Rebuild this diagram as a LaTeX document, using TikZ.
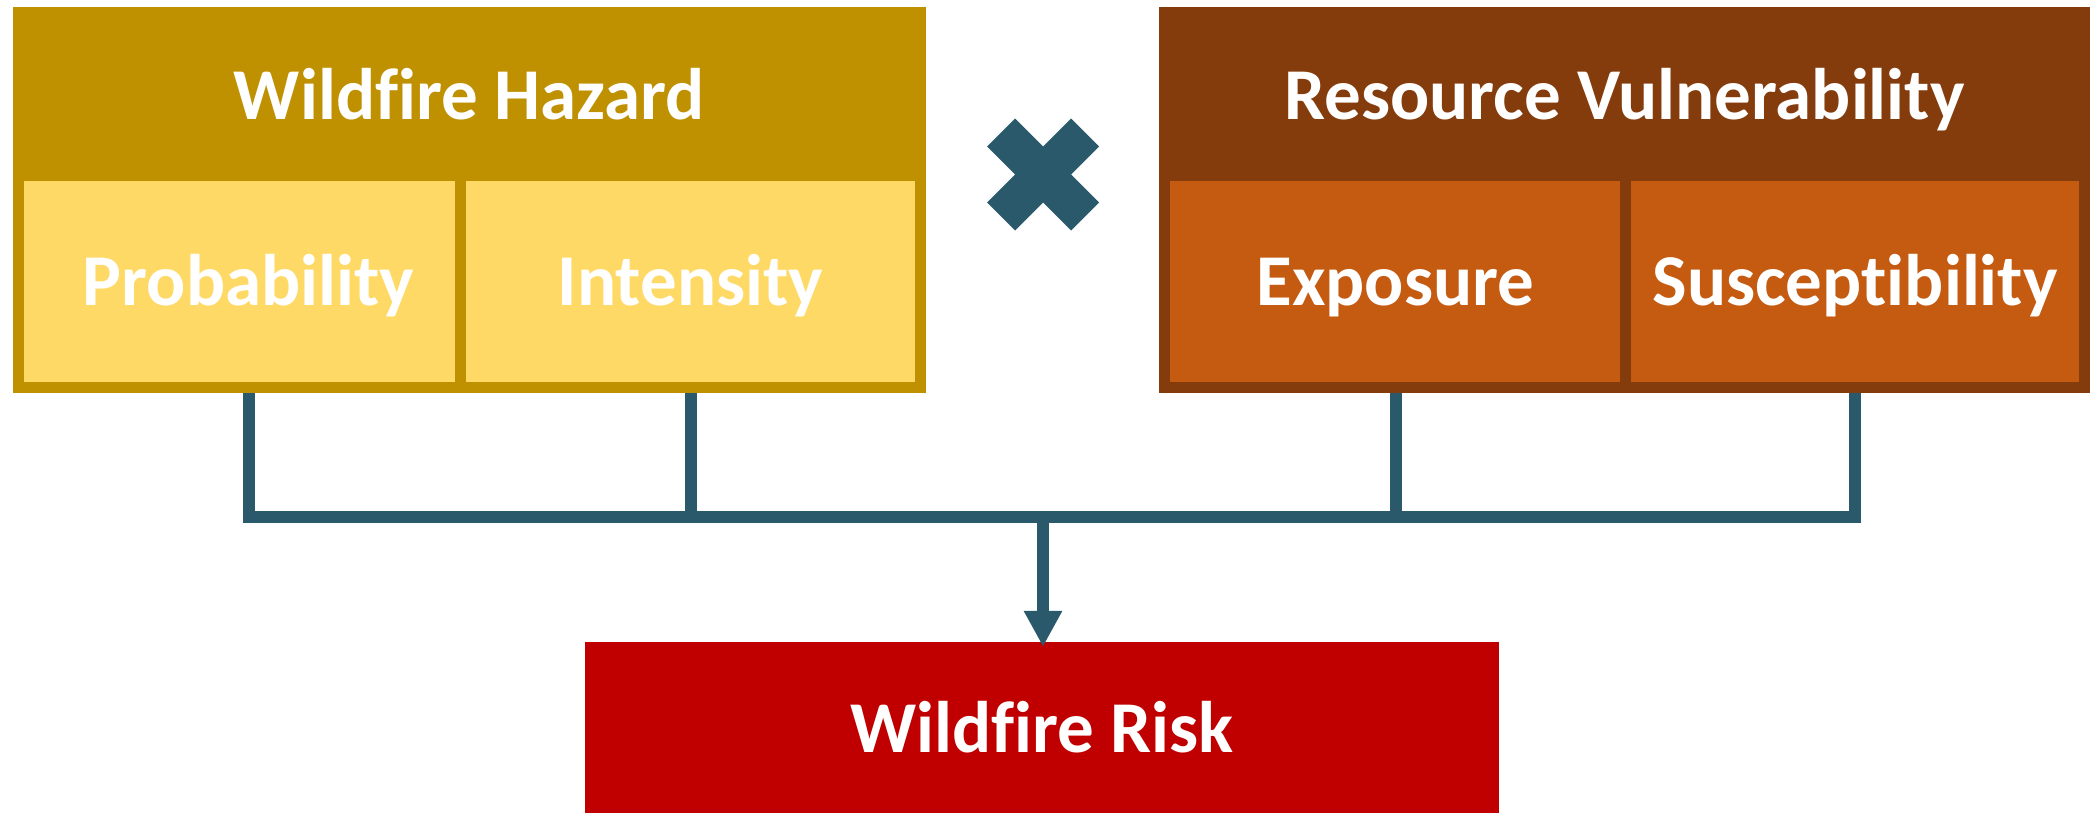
\documentclass[tikz,border=0pt]{standalone}
\usepackage{fontspec}
\setmainfont{Carlito}[Ligatures=NoCommon]
\usetikzlibrary{arrows.meta}
\definecolor{hazdark}{HTML}{BF9000}
\definecolor{hazlight}{HTML}{FFD966}
\definecolor{vuldark}{HTML}{843C0C}
\definecolor{vullight}{HTML}{C55A11}
\definecolor{riskred}{HTML}{C00000}
\definecolor{connteal}{HTML}{29596B}
\begin{document}
\begin{tikzpicture}[x=1pt,y=-1pt,
  txt/.style={font=\fontsize{73}{80}\selectfont\bfseries, text=white, text height=47pt, text depth=0pt, inner sep=0pt, rectangle},
  headbox/.style={txt, draw=none},
  subbox/.style={txt, line width=11pt, minimum height=212pt},
  conn/.style={draw=connteal, line width=12pt, line join=miter},
]
\useasboundingbox (0,0) rectangle (2092,812);

% hazard group
\node[headbox, fill=hazdark, minimum width=913pt, minimum height=177pt] (haz) at (469.5,95.5) {Wildfire Hazard};
\node[subbox, draw=hazdark, fill=hazlight, minimum width=460pt] (prob) at (248.5,281.5) {Probability};
\node[subbox, draw=hazdark, fill=hazlight, minimum width=460pt] (int) at (690.5,281.5) {Intensity};

% vulnerability group
\node[headbox, fill=vuldark, minimum width=931pt, minimum height=177pt] (vul) at (1624.5,95.5) {Resource Vulnerability};
\node[subbox, draw=vuldark, fill=vullight, minimum width=462pt] (exp) at (1395.5,281.5) {Exposure};
\node[subbox, draw=vuldark, fill=vullight, minimum width=459pt] (sus) at (1855,281.5) {Susceptibility};

% multiplication sign
\fill[connteal] (1043,174.5) ++(-28,-56) -- ++(28,28) -- ++(28,-28) -- ++(28,28) -- ++(-28,28)
  -- ++(28,28) -- ++(-28,28) -- ++(-28,-28) -- ++(-28,28) -- ++(-28,-28) -- ++(28,-28) -- ++(-28,-28) -- cycle;

% result
\node[headbox, fill=riskred, minimum width=914pt, minimum height=174pt] (risk) at (1042,729) {Wildfire Risk};

% connectors
\coordinate (j) at (1043,517);
\draw[conn] (prob.south) |- (j);
\draw[conn] (int.south) |- (j);
\draw[conn] (exp.south) |- (j);
\draw[conn] (sus.south) |- (j);
\draw[conn, -{Triangle[width=36pt,length=36pt]}] (j) -- ([yshift=-5pt]risk.north -| j);
\end{tikzpicture}
\end{document}
